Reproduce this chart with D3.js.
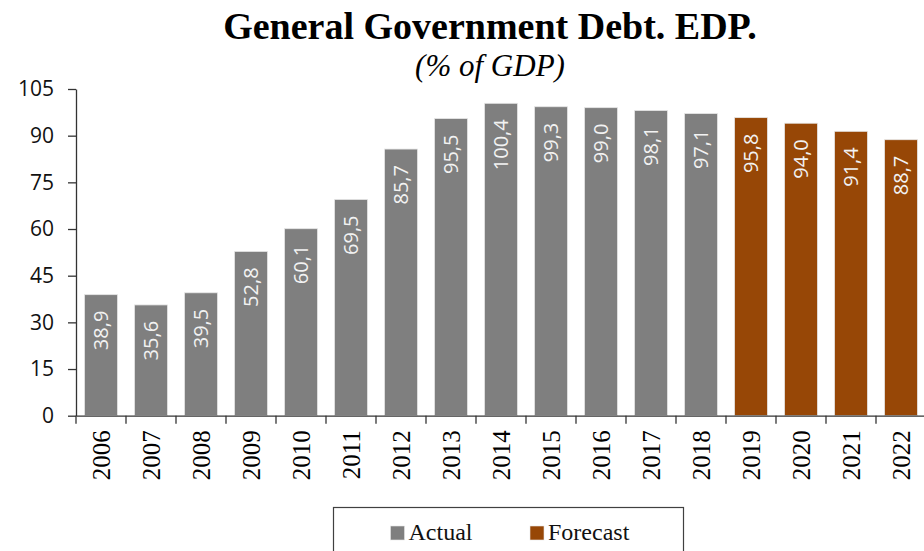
<!DOCTYPE html>
<html>
<head>
<meta charset="utf-8">
<script src="https://cdn.jsdelivr.net/npm/d3@7"></script>
<style>
  html, body { margin: 0; padding: 0; background: #fff; }
  svg { display: block; }
</style>
</head>
<body>
<svg id="chart" width="924" height="551"></svg>
<script>
// General government debt (EDP), % of GDP
const years = ["2006","2007","2008","2009","2010","2011","2012","2013","2014","2015","2016","2017","2018","2019","2020","2021","2022"];
const debt = [38.9, 35.6, 39.5, 52.8, 60.1, 69.5, 85.7, 95.5, 100.4, 99.3, 99.0, 98.1, 97.1, 95.8, 94.0, 91.4, 88.7];
const kind = ["Actual","Actual","Actual","Actual","Actual","Actual","Actual","Actual","Actual","Actual","Actual","Actual","Actual","Forecast","Forecast","Forecast","Forecast"];
const seriesNames = ["Actual", "Forecast"];
const yTicks = [0, 15, 30, 45, 60, 75, 90, 105];

const colour = d3.scaleOrdinal().domain(seriesNames).range(["#7f7f7f", "#974706"]);
const fmt = v => d3.format(".1f")(v).replace(".", ",");

const svg = d3.select("#chart");
const rows = years.map((y, i) => ({ year: y, value: debt[i], kind: kind[i] }));

const x = d3.scaleBand().domain(years).range([76, 926]).paddingInner(0.34).paddingOuter(0.17);
const y = d3.scaleLinear().domain([0, 105]).range([415.7, 89]);

// Title
svg.append("text")
  .attr("x", 490).attr("y", 39)
  .attr("text-anchor", "middle")
  .style("font-family", "'Liberation Serif', serif")
  .style("font-weight", "bold")
  .style("font-size", "38px")
  .attr("fill", "#000")
  .text("General Government Debt. EDP.");
svg.append("text")
  .attr("x", 490).attr("y", 76)
  .attr("text-anchor", "middle")
  .style("font-family", "'Liberation Serif', serif")
  .style("font-style", "italic")
  .style("font-size", "31px")
  .attr("fill", "#000")
  .text("(% of GDP)");

// Bars
svg.append("g").selectAll("rect").data(rows).join("rect")
  .attr("x", d => x(d.year))
  .attr("y", d => y(d.value))
  .attr("width", x.bandwidth())
  .attr("height", d => y(0) - y(d.value))
  .attr("fill", d => colour(d.kind))
  .attr("stroke", "#e6e6e6")
  .attr("stroke-width", 0.8);

// Value labels, rotated, just inside the top of each bar
svg.append("g").selectAll("text").data(rows).join("text")
  .attr("transform", d => `translate(${x(d.year) + x.bandwidth() / 2},${y(d.value) + 16}) rotate(-90)`)
  .attr("text-anchor", "end")
  .attr("dy", "0.35em")
  .style("font-family", "'Open Sans', sans-serif")
  .style("font-size", "20px")
  .attr("fill", "#f2f2f2")
  .text(d => fmt(d.value));

// Y axis
const yAxis = svg.append("g")
  .attr("transform", "translate(76,0)")
  .call(d3.axisLeft(y).tickValues(yTicks).tickSize(8).tickPadding(14).tickSizeOuter(0));
yAxis.select(".domain").attr("stroke", "#333").attr("stroke-width", 1.3);
yAxis.selectAll(".tick line").attr("stroke", "#333").attr("stroke-width", 1.3);
yAxis.selectAll(".tick text")
  .style("font-family", "'Open Sans', sans-serif")
  .style("font-size", "21px")
  .attr("fill", "#111");

// X axis: baseline, category boundary ticks and rotated year labels
const xAxis = svg.append("g")
  .attr("transform", `translate(0,${y(0)})`)
  .call(d3.axisBottom(x).tickSize(0).tickPadding(0).tickSizeOuter(0));
xAxis.select(".domain").attr("stroke", "#333").attr("stroke-width", 1.3);
xAxis.selectAll(".tick text")
  .attr("transform", "translate(0,14.5) rotate(-90)")
  .attr("text-anchor", "end")
  .attr("x", 0).attr("y", 0)
  .attr("dy", "0.35em")
  .style("font-family", "'Liberation Serif', serif")
  .style("font-size", "25px")
  .attr("fill", "#000");
const bounds = d3.range(years.length + 1).map(i => x.range()[0] + i * x.step());
xAxis.selectAll("line.bound").data(bounds).join("line")
  .attr("class", "bound")
  .attr("x1", d => d).attr("x2", d => d)
  .attr("y1", 0).attr("y2", 8)
  .attr("stroke", "#333").attr("stroke-width", 1.3);

// Legend
const legend = svg.append("g");
legend.append("rect")
  .attr("x", 333.5).attr("y", 507.5)
  .attr("width", 350).attr("height", 80)
  .attr("fill", "#fff")
  .attr("stroke", "#404040").attr("stroke-width", 1.2);
const legendX = [390.5, 530];
const item = legend.selectAll("g.item").data(seriesNames).join("g")
  .attr("class", "item")
  .attr("transform", (d, i) => `translate(${legendX[i]},526)`);
item.append("rect")
  .attr("width", 14).attr("height", 14)
  .attr("fill", d => colour(d))
  .attr("stroke", "#e6e6e6").attr("stroke-width", 0.6);
item.append("text")
  .attr("x", 18).attr("y", 14)
  .style("font-family", "'Liberation Serif', serif")
  .style("font-size", "24px")
  .attr("fill", "#111")
  .text(d => d);
</script>
</body>
</html>
